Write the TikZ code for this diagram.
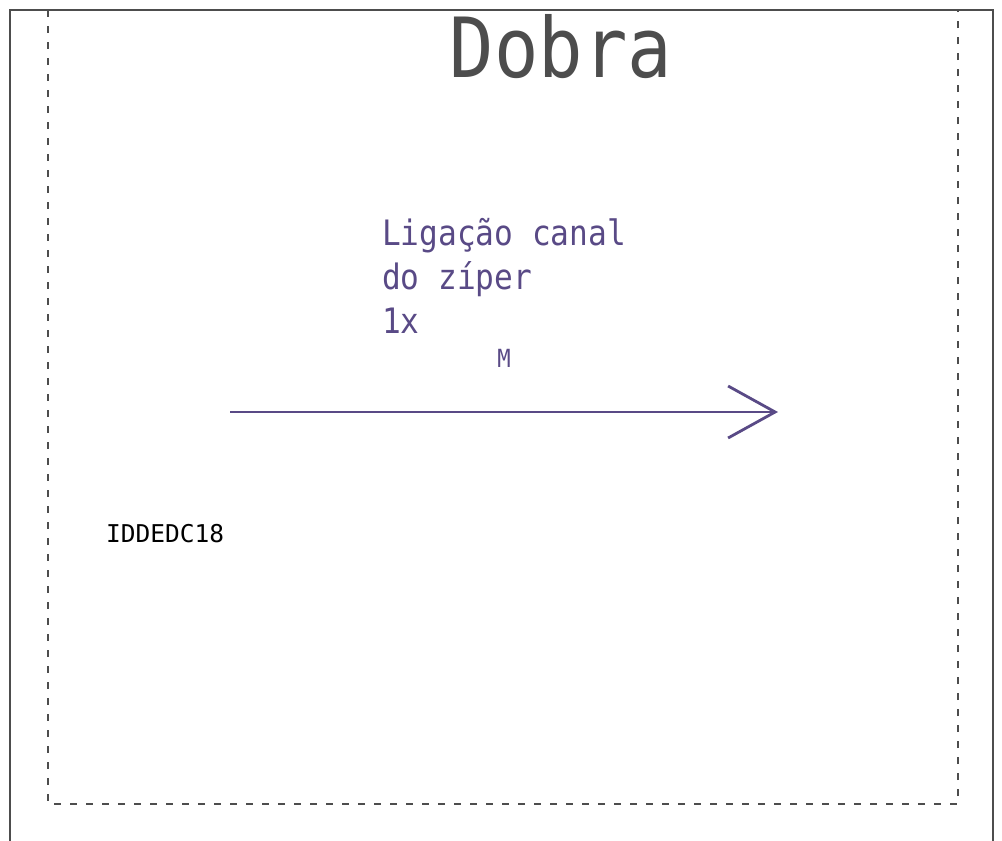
\documentclass[tikz,border=0pt]{standalone}
\usepackage{fontspec}
\usetikzlibrary{arrows.meta}
\newfontfamily\plainmono{DejaVu Sans Mono}
\newfontfamily\narrowmono[FakeStretch=0.89]{DejaVu Sans Mono}
\definecolor{framegray}{HTML}{4D4D4D}
\definecolor{seampurple}{HTML}{594A86}
\begin{document}
\begin{tikzpicture}[
    x=1pt, y=-1pt,
    frame/.style={draw=framegray, line width=2.8pt},
    foldline/.style={draw=framegray, line width=2.4pt, dash pattern=on 7pt off 9pt},
    title/.style={inner sep=0pt, anchor=base, text=framegray, font=\narrowmono\fontsize{83}{90}\selectfont},
    seamlabel/.style={inner sep=0pt, anchor=north west, align=left, text=seampurple, font=\narrowmono\fontsize{35}{44}\selectfont},
    sizelabel/.style={inner sep=0pt, anchor=base, text=seampurple, font=\narrowmono\fontsize{25}{30}\selectfont},
    code/.style={inner sep=0pt, anchor=base west, text=black, font=\plainmono\fontsize{24.5}{28}\selectfont},
    seam/.style={draw=seampurple, line width=2.8pt, -{Straight Barb[length=47pt, width=52pt]}}
]
\useasboundingbox (0,0) rectangle (1002,841);

% Outer panel (open at the bottom)
\draw[frame] (10,841) -- (10,10) -- (993,10) -- (993,841);

% Fold area
\draw[foldline] (48,10) rectangle (958,804);

% Title
\node[title] (dobra) at (561,77) {Dobra};

% Seam label and size
\node[seamlabel] (seamtext) at (382,218) {Ligação canal\\do zíper\\1x};
\node[sizelabel] (size) at (504,367) {M};

% Seam direction
\coordinate (seamstart) at (230,412);
\coordinate (seamend) at (778,412);
\draw[seam] (seamstart) -- (seamend);

% Part code
\node[code] (partcode) at (106,542) {IDDEDC18};
\end{tikzpicture}
\end{document}
